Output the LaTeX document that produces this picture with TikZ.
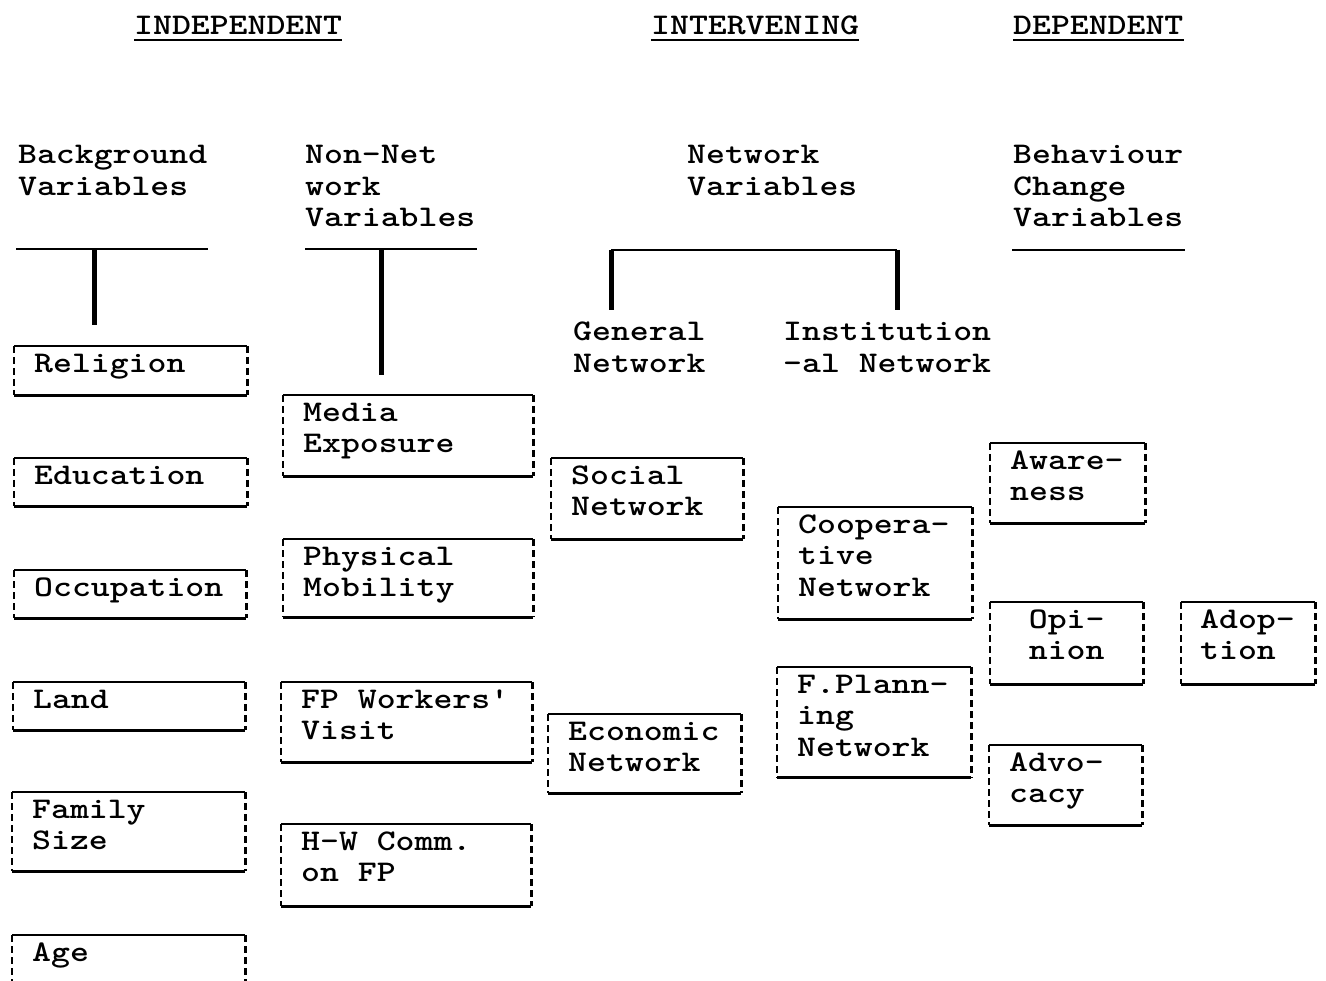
\documentclass[tikz,border=0pt]{standalone}
\usepackage{fontspec}
\newfontfamily\tw[FakeStretch=1.2]{lmmonolt10-bold.otf}
\begin{document}
\begin{tikzpicture}[x=1pt,y=-1pt,
  every node/.style={font=\tw\fontsize{30}{31.5}\selectfont, text=black,
     execute at begin node={\spaceskip=0pt\xspaceskip=0pt\relax}},
  lbl/.style={anchor=north west, inner sep=0pt, align=left, execute at begin node=\strut},
  vb/.style n args={3}{anchor=north west, inner xsep=20pt, inner ysep=4pt,
     text width=#1, text height=22pt, text depth=#2, align=#3},
  rule/.style={line width=2.6pt},
  stem/.style={line width=5pt},
  edge/.style={line width=2.8pt},
  side/.style={line width=2.8pt, dash pattern=on 7pt off 4pt}
]
\useasboundingbox (0,0) rectangle (1326,981);
\clip (0,0) rectangle (1326,981);

% top headings
\node[lbl] (ind) at (134,12) {INDEPENDENT};
\node[lbl] (int) at (651,12) {INTERVENING};
\node[lbl] (dep) at (1013,12) {DEPENDENT};
\foreach \h in {ind,int,dep}{
  \draw[line width=2.4pt] ([yshift=-6pt]\h.west |- \h.base) -- ([yshift=-6pt]\h.east |- \h.base);
}

% column headings
\node[lbl] (bg) at (18,145) {Background\\Variables};
\node[lbl] (nn) at (305,145) {Non-Net\\work\\Variables};
\node[lbl] (nv) at (687,145) {Network\\Variables};
\node[lbl] (bc) at (1013,145) {Behaviour\\Change\\Variables};
\node[lbl] (gn) at (573,322) {General\\Network};
\node[lbl] (in) at (783,322) {Institution\\-al Network};

% rules and stems
\coordinate (bgL) at (16,249);  \coordinate (bgR) at (208,249);
\coordinate (bgT) at (94,249);  \coordinate (bgB) at (94,325);
\draw[rule] (bgL) -- (bgR);
\draw[stem] (bgT) -- (bgB);
\coordinate (nnL) at (305,249); \coordinate (nnR) at (477,249);
\coordinate (nnT) at (381,249); \coordinate (nnB) at (381,375);
\draw[rule] (nnL) -- (nnR);
\draw[stem] (nnT) -- (nnB);
\coordinate (brL) at (611,250); \coordinate (brR) at (897,250);
\coordinate (brLB) at (611,310); \coordinate (brRB) at (897,310);
\draw[rule] (brL) -- (brR);
\draw[stem] (brL) -- (brLB);
\draw[stem] (brR) -- (brRB);
\coordinate (bcL) at (1012,250); \coordinate (bcR) at (1185,250);
\draw[rule] (bcL) -- (bcR);

% background variables
\node[vb={193pt}{19pt}{left}] (rel) at (14,346) {Religion};
\node[vb={193pt}{18pt}{left}] (edu) at (14,458) {Education};
\node[vb={192pt}{18pt}{left}] (occ) at (14,570) {Occupation};
\node[vb={192pt}{18pt}{left}] (land) at (13,682) {Land};
\node[vb={193pt}{49pt}{left}] (fam) at (12,792) {Family\\Size};
\node[vb={193pt}{18pt}{left}] (age) at (12,935) {Age};

% non-network variables
\node[vb={210pt}{51pt}{left}] (med) at (283,395) {Media\\Exposure};
\node[vb={210pt}{48pt}{left}] (phy) at (283,539) {Physical\\Mobility};
\node[vb={211pt}{50pt}{left}] (fpw) at (281,682) {FP Workers'\\Visit};
\node[vb={210pt}{52pt}{left}] (hw) at (281,824) {H-W Comm.\\on FP};

% network variables
\node[vb={152pt}{51pt}{left}] (soc) at (551,458) {Social\\Network};
\node[vb={153pt}{49pt}{left}] (eco) at (548,714) {Economic\\Network};
\node[vb={154pt}{82pt}{left}] (coop) at (778,507) {Coopera-\\tive\\Network};
\node[vb={154pt}{80pt}{left}] (fpl) at (777,667) {F.Plann-\\ing\\Network};

% behaviour change variables
\node[vb={115pt}{50pt}{left}] (awa) at (990,443) {Aware-\\ness};
\node[vb={113pt}{52pt}{center}] (opi) at (990,602) {Opi-\\nion};
\node[vb={113pt}{50pt}{left}] (adv) at (989,745) {Advo-\\cacy};
\node[vb={96pt}{52pt}{left}, inner xsep=19pt] (ado) at (1181,602) {Adop-\\tion};

\foreach \n in {rel,edu,occ,land,fam,age,med,phy,fpw,hw,soc,eco,coop,fpl,awa,opi,adv,ado}{
  \draw[edge] (\n.north west) -- (\n.north east);
  \draw[edge] (\n.south west) -- (\n.south east);
  \draw[side] (\n.north west) -- (\n.south west);
  \draw[side] (\n.north east) -- (\n.south east);
}
\end{tikzpicture}
\end{document}
